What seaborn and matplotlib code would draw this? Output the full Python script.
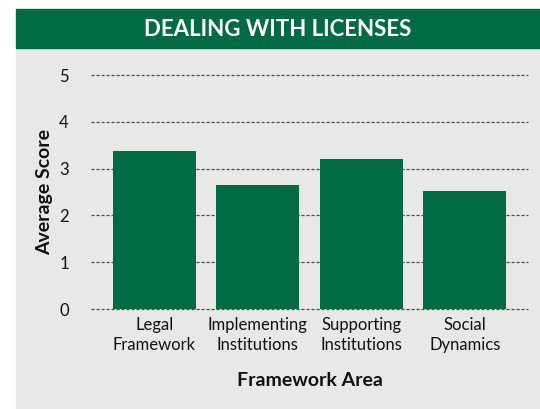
import matplotlib
matplotlib.use("Agg")
import matplotlib.pyplot as plt
import pandas as pd
import seaborn as sns
from matplotlib.patches import Rectangle

areas = ["Legal\nFramework", "Implementing\nInstitutions", "Supporting\nInstitutions", "Social\nDynamics"]
scores = [3.38, 2.65, 3.20, 2.52]
y_ticks = [0, 1, 2, 3, 4, 5]

GREEN = "#026b43"
PANEL = "#e8e8e8"

sns.set_theme(style="white")
plt.rcParams["font.family"] = ["Lato", "DejaVu Sans"]

W, H = 540, 409
fig = plt.figure(figsize=(W / 100, H / 100), dpi=100)
fig.patch.set_facecolor("white")

# grey panel + green banner (figure pixel coords -> fraction)
def px(x0, y0, x1, y1):
    return (x0 / W, 1 - y1 / H), (x1 - x0) / W, (y1 - y0) / H

xy, w, h = px(16, 49, 540, 409)
fig.patches.append(Rectangle(xy, w, h, transform=fig.transFigure, color=PANEL, zorder=-2))
xy, w, h = px(16, 9, 540, 48)
fig.patches.append(Rectangle(xy, w, h, transform=fig.transFigure, color=GREEN, zorder=-2))
fig.text((16 + 540) / 2 / W, 1 - 29 / H, "DEALING WITH LICENSES", color="white",
         fontsize=16, fontweight="bold", ha="center", va="center")

ax = fig.add_axes([91 / W, 1 - 309 / H, (528 - 91) / W, (309 - 75) / H])
ax.set_facecolor("none")

df = pd.DataFrame({"area": areas, "score": scores})
sns.barplot(data=df, x="area", y="score", color=GREEN, saturation=1, width=0.8,
            linewidth=0, ax=ax, zorder=3)

ax.set_xlim(-0.61, 3.61)
ax.set_ylim(0, 5)
ax.set_yticks(y_ticks)
for y in y_ticks:
    ax.axhline(y, color="#4d4d4d", lw=0.9, ls=(0, (2.5, 1.5)), zorder=1, clip_on=False)
for s in ax.spines.values():
    s.set_visible(False)
ax.tick_params(axis="both", length=0, labelsize=12, colors="#111111")
ax.tick_params(axis="y", pad=16)
ax.tick_params(axis="x", pad=6)
ax.set_xlabel("Framework Area", fontsize=14, fontweight="bold", labelpad=14, color="#111111")
ax.set_ylabel("Average Score", fontsize=14, fontweight="bold", labelpad=4, color="#111111")
for lab in ax.get_xticklabels():
    lab.set_linespacing(1.25)

fig.savefig("out.png", dpi=100)
